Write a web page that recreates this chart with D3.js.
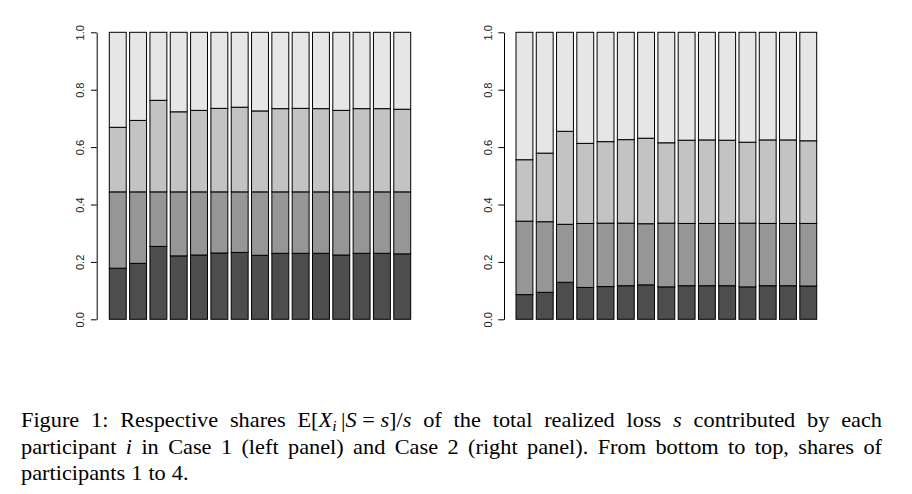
<!DOCTYPE html>
<html><head><meta charset="utf-8">
<script src="https://cdn.jsdelivr.net/npm/d3@7"></script>
<style>html,body{margin:0;padding:0;background:#fff;} svg{display:block;}</style>
</head><body>
<svg id="chart" width="912" height="494"></svg>
<script>
// ---- data ----
const categories = [1, 2, 3, 4, 5, 6, 7, 8, 9, 10, 11, 12, 13, 14, 15];
const participants = ["Participant 1", "Participant 2", "Participant 3", "Participant 4"];

// Case 1 (left panel): shares of participants 1..4
const case1P1 = [0.178,0.195,0.254,0.221,0.224,0.231,0.233,0.223,0.230,0.230,0.230,0.224,0.230,0.230,0.228];
const case1P2 = [0.266,0.249,0.190,0.223,0.220,0.213,0.211,0.221,0.214,0.214,0.214,0.220,0.214,0.214,0.216];
const case1P3 = [0.225,0.249,0.319,0.279,0.284,0.291,0.295,0.282,0.290,0.291,0.290,0.284,0.290,0.290,0.288];
const case1P4 = [0.331,0.307,0.237,0.277,0.272,0.265,0.261,0.274,0.266,0.265,0.266,0.272,0.266,0.266,0.268];

// Case 2 (right panel): shares of participants 1..4
const case2P1 = [0.086,0.094,0.129,0.111,0.114,0.117,0.120,0.113,0.117,0.117,0.117,0.113,0.117,0.117,0.116];
const case2P2 = [0.256,0.246,0.202,0.223,0.221,0.218,0.213,0.222,0.217,0.217,0.217,0.222,0.217,0.217,0.218];
const case2P3 = [0.214,0.239,0.324,0.279,0.284,0.291,0.298,0.280,0.290,0.291,0.290,0.282,0.291,0.291,0.288];
const case2P4 = [0.444,0.421,0.345,0.387,0.381,0.374,0.369,0.385,0.376,0.375,0.376,0.383,0.375,0.375,0.378];

const yTicks = [0, 0.2, 0.4, 0.6, 0.8, 1.0];
const tickLabels = ["0.0", "0.2", "0.4", "0.6", "0.8", "1.0"];
const fillColors = ["#4D4D4D", "#969696", "#C3C3C3", "#E6E6E6"];

// caption: words made of [text, style] segments (r = roman, i = italic, s = italic subscript)
const captionLine1 = [
  [["Figure","r"]],[["1:","r"]],[["Respective","r"]],[["shares","r"]],
  [["E[","r"],["X","i"],["i","s"],["\u2009|","r"],["S","i"],["\u2005=\u2005","r"],["s","i"],["]/","r"],["s","i"]],
  [["of","r"]],[["the","r"]],[["total","r"]],[["realized","r"]],[["loss","r"]],[["s","i"]],
  [["contributed","r"]],[["by","r"]],[["each","r"]]
];
const captionLine2 = [
  [["participant","r"]],[["i","i"]],[["in","r"]],[["Case","r"]],[["1","r"]],[["(left","r"]],[["panel)","r"]],
  [["and","r"]],[["Case","r"]],[["2","r"]],[["(right","r"]],[["panel).","r"]],[["From","r"]],[["bottom","r"]],
  [["to","r"]],[["top,","r"]],[["shares","r"]],[["of","r"]]
];
const captionLine3 = [[["participants","r"]],[["1","r"]],[["to","r"]],[["4.","r"]]];

// ---- drawing ----
const svg = d3.select("#chart");
svg.append("rect").attr("width",912).attr("height",494).attr("fill","#fff");

const y = d3.scaleLinear().domain([0, 1]).range([319.3, 32.3]);

function panel(shares, axisX, x0, x1) {
  const x = d3.scaleBand().domain(categories).range([x0, x1]).paddingInner(1/6).paddingOuter(0);
  const rows = categories.map((c, i) => {
    const o = {cat: c};
    participants.forEach((p, j) => o[p] = shares[j][i]);
    return o;
  });
  const series = d3.stack().keys(participants)(rows);
  const g = svg.append("g");
  g.selectAll("g.layer").data(series).join("g").attr("class","layer")
    .attr("fill", (d, i) => fillColors[i])
    .selectAll("rect").data(d => d).join("rect")
    .attr("x", d => x(d.data.cat)).attr("width", x.bandwidth())
    .attr("y", d => y(d[1])).attr("height", d => y(d[0]) - y(d[1]))
    .attr("stroke", "#000").attr("stroke-width", 1);

  const axis = d3.axisLeft(y).tickValues(yTicks).tickFormat((d, i) => tickLabels[i])
    .tickSize(5.7).tickSizeOuter(0);
  const ag = g.append("g").attr("transform", `translate(${axisX},0)`).call(axis);
  ag.select(".domain").attr("stroke", "#000");
  ag.selectAll(".tick line").attr("stroke", "#000");
  ag.selectAll(".tick text")
    .attr("x", null).attr("dy", null)
    .attr("text-anchor", "middle")
    .attr("transform", "translate(-12.5,0) rotate(-90)")
    .attr("font-family", "'Liberation Sans', Arial, sans-serif")
    .attr("font-size", 11).attr("fill", "#222");
}

panel([case1P1, case1P2, case1P3, case1P4], 96.7, 109.3, 410.7);
panel([case2P1, case2P2, case2P3, case2P4], 504, 516, 816.7);

// ---- caption ----
const capFont = "'Liberation Serif', 'Times New Roman', serif";
const capSize = 20.3;
const capStretch = 1.1;
const capLeft = 21, capRight = 882;

function makeWord(parent, word) {
  const t = parent.append("text").attr("font-family", capFont).attr("font-size", capSize).attr("fill", "#000");
  let prev = null;
  word.forEach(([txt, st]) => {
    const ts = t.append("tspan").text(txt);
    if (st === "i") ts.attr("font-style", "italic");
    if (st === "s") ts.attr("font-style", "italic").attr("font-size", capSize * 0.7).attr("dy", capSize * 0.22);
    else if (prev === "s") ts.attr("dy", -capSize * 0.22);
    prev = st;
  });
  return t;
}

function layoutLine(words, baseline, justify) {
  const g = svg.append("g");
  const wraps = words.map(() => g.append("g"));
  const nodes = words.map((w, i) => makeWord(wraps[i], w));
  const widths = nodes.map(n => n.node().getComputedTextLength() * capStretch);
  const total = d3.sum(widths);
  const normalSpace = capSize * 0.3;
  const space = justify ? (capRight - capLeft - total) / (words.length - 1) : normalSpace;
  let xPos = capLeft;
  wraps.forEach((w, i) => {
    w.attr("transform", `translate(${xPos},${baseline}) scale(${capStretch},1)`);
    xPos += widths[i] + space;
  });
}

layoutLine(captionLine1, 426.7, true);
layoutLine(captionLine2, 453.5, true);
layoutLine(captionLine3, 480.3, false);
</script>
</body></html>
